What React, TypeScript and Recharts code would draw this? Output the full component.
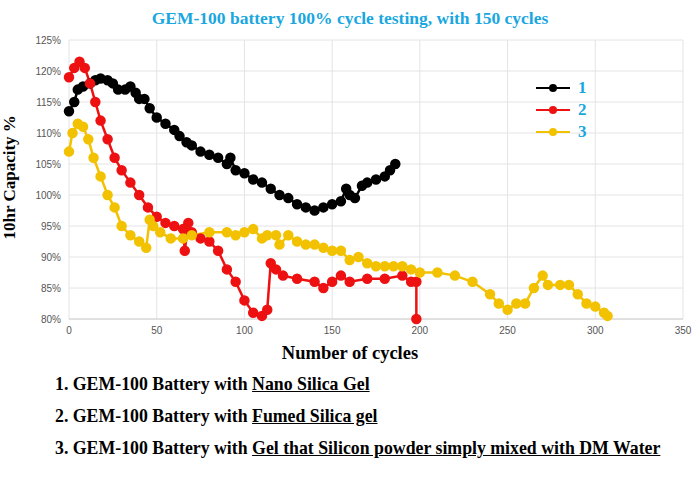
import React from 'react';
import { LineChart, Line, XAxis, YAxis, CartesianGrid } from 'recharts';

const nanoX = [0, 3, 5, 8, 12, 15, 18, 22, 25, 28, 32, 35, 38, 40, 43, 46, 50, 55, 60, 63, 67, 70, 75, 80, 85, 90, 92, 95, 100, 105, 110, 115, 120, 125, 130, 135, 140, 145, 150, 155, 158, 160, 163, 167, 170, 175, 180, 183, 186];
const nanoY = [113.5, 115, 117, 117.5, 118, 118.5, 118.8, 118.5, 118, 117, 117, 117.5, 116.5, 115.5, 115.5, 114, 112.5, 111.5, 110.5, 109.5, 108.5, 108, 107, 106.5, 106, 105, 106, 104, 103.5, 102.5, 102, 101, 100, 99.5, 98.5, 98, 97.5, 98, 98.5, 99, 101, 100, 99.5, 101.5, 102, 102.5, 103, 104, 105];

const fumedX = [0, 3, 6, 9, 12, 15, 18, 22, 26, 30, 35, 40, 45, 50, 55, 60, 65, 66, 68, 70, 75, 80, 85, 90, 95, 100, 105, 110, 113, 115, 118, 122, 130, 140, 145, 150, 155, 160, 170, 180, 190, 195, 198, 198];
const fumedY = [119, 120.5, 121.5, 120.5, 118, 115, 112, 109, 106, 104, 102, 100, 98, 96.5, 95.5, 95, 94.5, 91, 95.5, 94, 93, 92.5, 91, 88, 86, 83, 81, 80.5, 81.5, 89, 88, 87, 86.5, 86, 85, 86, 87, 86, 86.5, 86.5, 87, 86, 86, 80];

const mixedX = [0, 2, 5, 8, 11, 14, 18, 22, 26, 30, 35, 40, 44, 46, 48, 52, 58, 65, 70, 80, 90, 95, 100, 105, 110, 113, 118, 120, 125, 130, 135, 140, 145, 150, 155, 160, 165, 170, 175, 180, 185, 190, 195, 200, 210, 220, 230, 240, 245, 250, 255, 260, 265, 270, 273, 280, 285, 290, 295, 300, 305, 307];
const mixedY = [107, 110, 111.5, 111, 109, 106, 103, 100, 98, 95, 93.5, 92.5, 91.5, 96, 95, 94, 93, 93, 93.5, 94, 94, 93.5, 94, 94.5, 93, 93.5, 93.5, 92, 93.5, 92.5, 92, 92, 91.5, 91, 91, 89.5, 90, 89, 88.5, 88.5, 88.5, 88.5, 88, 87.5, 87.5, 87, 86, 84, 82.5, 81.5, 82.5, 82.5, 85, 87, 85.5, 85.5, 85.5, 84, 82.5, 82, 81, 80.5];

const xTicks = [0, 50, 100, 150, 200, 250, 300, 350];
const yTicks = [80, 85, 90, 95, 100, 105, 110, 115, 120, 125];

const SERIES = [
  { name: '1', color: '#000000', xs: nanoX, ys: nanoY },
  { name: '2', color: '#ee1111', xs: fumedX, ys: fumedY },
  { name: '3', color: '#f2c200', xs: mixedX, ys: mixedY },
];

const NOTES = [
  { pre: '1. GEM-100 Battery with ', u: 'Nano Silica Gel' },
  { pre: '2. GEM-100 Battery with ', u: 'Fumed Silica gel' },
  { pre: '3. GEM-100 Battery with ', u: 'Gel that Silicon powder simply mixed with DM Water' },
];

const serif = '"Liberation Serif", "DejaVu Serif", serif';

export default function App() {
  return (
    <div style={{ position: 'absolute', left: 0, top: 0, width: 700, height: 490, background: '#fff', fontFamily: serif }}>
      <div style={{ position: 'absolute', top: 8, width: 700, textAlign: 'center', color: '#1aa7e0', fontWeight: 'bold', fontSize: 17.5 }}>
        GEM-100 battery 100% cycle testing, with 150 cycles
      </div>
      <LineChart width={700} height={345} margin={{ top: 40, right: 17, bottom: 0, left: 29 }}>
        <CartesianGrid stroke="#e4e4e4" />
        <XAxis type="number" dataKey="x" domain={[0, 350]} ticks={xTicks} height={26} axisLine={{ stroke: '#d0d0d0' }} tickLine={false}
          tick={{ fontSize: 10, fill: '#555', fontFamily: 'Arial' }} allowDuplicatedCategory={false} />
        <YAxis type="number" domain={[80, 125]} ticks={yTicks} width={40} axisLine={false} tickLine={false}
          tickFormatter={(v) => `${v}%`} tick={{ fontSize: 10, fill: '#555', fontFamily: 'Arial' }}
          label={{ value: '10hr Capacity %', angle: -90, position: 'insideLeft', offset: -20, dy: 60, style: { fontWeight: 'bold', fontSize: 17, fill: '#000', fontFamily: serif } }} />
        {SERIES.map((s) => (
          <Line key={s.name} data={s.xs.map((x, i) => ({ x, y: s.ys[i] }))} dataKey="y" stroke={s.color} strokeWidth={2.5}
            dot={{ r: 4, fill: s.color, stroke: s.color }} isAnimationActive={false} />
        ))}
      </LineChart>
      <div style={{ position: 'absolute', left: 536, top: 77 }}>
        {SERIES.map((s) => (
          <div key={s.name} style={{ display: 'flex', alignItems: 'center', height: 22 }}>
            <svg width={34} height={10}>
              <line x1={0} y1={5} x2={34} y2={5} stroke={s.color} strokeWidth={2} />
              <circle cx={17} cy={5} r={4} fill={s.color} />
            </svg>
            <span style={{ marginLeft: 8, color: '#1aa7e0', fontWeight: 'bold', fontSize: 17 }}>{s.name}</span>
          </div>
        ))}
      </div>
      <div style={{ position: 'absolute', top: 343, width: 700, textAlign: 'center', fontWeight: 'bold', fontSize: 18.5 }}>
        Number of cycles
      </div>
      {NOTES.map((n, i) => (
        <div key={i} style={{ position: 'absolute', left: 55, top: 374 + i * 32, fontWeight: 'bold', fontSize: 17.8 }}>
          {n.pre}<span style={{ textDecoration: 'underline' }}>{n.u}</span>
        </div>
      ))}
    </div>
  );
}
